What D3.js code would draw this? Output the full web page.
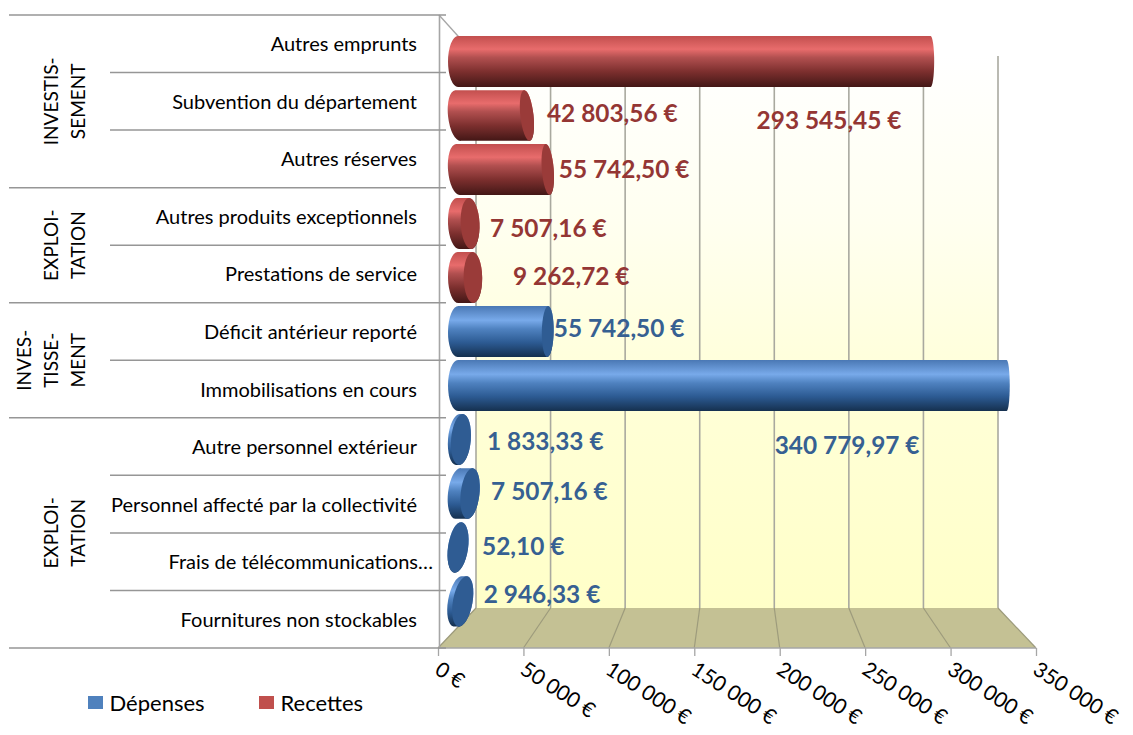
<!DOCTYPE html>
<html><head><meta charset="utf-8">
<script src="https://cdn.jsdelivr.net/npm/d3@7/dist/d3.min.js"></script>
<style>html,body{margin:0;padding:0;background:#fff}svg{display:block}text{font-family:Lato,"Open Sans",sans-serif}</style>
</head><body><svg id="c" width="1133" height="735"></svg>
<script>
const categories=["Autres emprunts","Subvention du département","Autres réserves","Autres produits exceptionnels","Prestations de service","Déficit antérieur reporté","Immobilisations en cours","Autre personnel extérieur","Personnel affecté par la collectivité","Frais de télécommunications…","Fournitures non stockables"];
const values=[293545.45,42803.56,55742.50,7507.16,9262.72,55742.50,340779.97,1833.33,7507.16,52.10,2946.33];
const seriesOf=["Recettes","Recettes","Recettes","Recettes","Recettes","Dépenses","Dépenses","Dépenses","Dépenses","Dépenses","Dépenses"];
const valueLabels=["293 545,45 €","42 803,56 €","55 742,50 €","7 507,16 €","9 262,72 €","55 742,50 €","340 779,97 €","1 833,33 €","7 507,16 €","52,10 €","2 946,33 €"];
const labelOffsetX=[-174,20,11,20,40,6,-232,26,21,24,21];
const labelOffsetY=[59,-2.5,0,4.5,-1,-3,60,2,-2,-1.5,-7.5];
const groups=[["INVESTIS-","SEMENT"],["EXPLOI-","TATION"],["INVES-","TISSE-","MENT"],["EXPLOI-","TATION"]];
const groupSpans=[[0,3],[3,5],[5,7],[7,11]];
const ticks=[0,50000,100000,150000,200000,250000,300000,350000];
const series=["Dépenses","Recettes"];
const legendColors=["#4f81bd","#c0504d"];

const svg=d3.select("#c"),defs=svg.append("defs");
const axisX=d3.scaleLinear().domain([0,350000]).range([438,1036]);
const wallX=d3.scaleLinear().domain([0,350000]).range([476,998]);
const barX=d3.scaleLinear().domain([0,350000]).range([458,1021.5]);
const rowY=d3.scaleBand().domain(categories).range([15,648]);
const barY=d3.scaleBand().domain(categories).range([36,627]).paddingInner(0.055);
const capRx=d3.scaleLinear().domain([0,50000,350000]).range([10,6,3]);
const tiltY=d3.scaleLinear().domain([36,627]).range([-9,11]);
const tilt=(cy,v)=>v<100000?tiltY(cy):0;
const wallTop=56,wallBottom=608,frontY=648;

function grad(id,stops){const g=defs.append("linearGradient").attr("id",id).attr("x1",0).attr("y1",0).attr("x2",0).attr("y2",1);
 stops.forEach(s=>g.append("stop").attr("offset",s[0]).attr("stop-color",s[1]));}
grad("wall",[[0,"#ffffff"],[0.3,"#fffff0"],[0.6,"#ffffd8"],[1,"#ffffc8"]]);
grad("Recettes",[[0,"#c24f4e"],[0.26,"#e86c6c"],[0.42,"#b25050"],[0.7,"#7c2f2e"],[1,"#431716"]]);
grad("Dépenses",[[0,"#4a78b4"],[0.28,"#78aaea"],[0.45,"#4f82c0"],[0.72,"#2c5a92"],[1,"#15304f"]]);
const capColor={"Recettes":"#9a3b39","Dépenses":"#2f5c93"};
const valueColor={"Recettes":"#943634","Dépenses":"#366092"};

// wall and floor
svg.append("rect").attr("x",wallX(0)).attr("y",wallTop).attr("width",wallX(350000)-wallX(0)).attr("height",wallBottom-wallTop).attr("fill","url(#wall)");
svg.append("path").attr("d",d3.line()([[axisX(0),frontY],[axisX(350000),frontY],[wallX(350000),wallBottom],[wallX(0),wallBottom]])+"Z").attr("fill","#c4c194");
svg.selectAll("line.grid").data(ticks).join("line").attr("class","grid").attr("x1",d=>wallX(d)).attr("x2",d=>wallX(d)).attr("y1",wallTop).attr("y2",wallBottom).attr("stroke","#a9a99f").attr("stroke-width",1.6);
svg.selectAll("line.fl").data(ticks).join("line").attr("class","fl").attr("x1",d=>wallX(d)).attr("x2",d=>axisX(d)).attr("y1",wallBottom).attr("y2",frontY).attr("stroke","#9d9b7c").attr("stroke-width",1.2);
svg.append("line").attr("x1",axisX(0)+1).attr("y1",15).attr("x2",wallX(0)).attr("y2",wallTop).attr("stroke","#a6a6a6").attr("stroke-width",1.3);

// bottom axis
const ax=svg.append("g").attr("transform",`translate(0,${frontY})`).call(d3.axisBottom(axisX).tickValues(ticks).tickSize(8).tickPadding(0).tickFormat(d=>d3.format(",")(d).replace(/,/g," ")+" €"));
ax.select(".domain").attr("stroke","#a6a6a6").attr("stroke-width",1.6).attr("d",`M${axisX(0)},0H${axisX(350000)}`);
ax.selectAll(".tick line").attr("stroke","#a6a6a6").attr("stroke-width",1.3);
ax.selectAll(".tick text").attr("fill","#000").attr("font-size",21).attr("text-anchor","start").attr("y",0).attr("dy",0).attr("transform","translate(-5,25) rotate(33)");

// category axis
svg.append("line").attr("x1",439.5).attr("x2",439.5).attr("y1",15).attr("y2",frontY).attr("stroke","#a6a6a6").attr("stroke-width",1.6);
const edges=categories.map(c=>rowY(c)).concat([frontY]);
const groupEdges=new Set(groupSpans.flat());
svg.selectAll("line.sep").data(edges).join("line").attr("class","sep").attr("x1",(d,i)=>groupEdges.has(i)?9:110).attr("x2",446).attr("y1",d=>d).attr("y2",d=>d).attr("stroke","#969696").attr("stroke-width",1.5);
svg.selectAll("text.cat").data(categories).join("text").attr("class","cat").attr("x",(d,i)=>i===9?433:417).attr("y",d=>rowY(d)+rowY.bandwidth()/2+0.5).attr("dy","0.35em").attr("text-anchor","end").attr("font-size",20).attr("fill","#000").text(d=>d);

// group labels
groups.forEach((lines,g)=>{
 const cy=(edges[groupSpans[g][0]]+edges[groupSpans[g][1]])/2;
 lines.forEach((t,i)=>{
  const x=85-(lines.length-1-i)*27;
  svg.append("text").attr("transform",`translate(${x},${cy}) rotate(-90)`).attr("text-anchor","middle").attr("font-size",19).attr("fill","#000").text(t);
 });
});

// bars
const data=categories.map((c,i)=>({c,v:values[i],s:seriesOf[i],lab:valueLabels[i],dx:labelOffsetX[i],dy:labelOffsetY[i]}));
const rad=Math.PI/180;
const bars=svg.selectAll("g.bar").data(data).join("g").attr("class","bar");
bars.append("path").attr("fill",d=>`url(#${d.s})`).attr("d",d=>{
 const ry=barY.bandwidth()/2,cy=barY(d.c)+ry,a=tilt(cy,d.v),x0=barX(0),x1=barX(d.v),r0=10,r1=capRx(d.v);
 const sx=ry*Math.sin(a*rad),sy=ry*Math.cos(a*rad);
 return `M${x0+sx},${cy-sy}L${x1+sx},${cy-sy}A${r1},${ry},${a},0,1,${x1-sx},${cy+sy}L${x0-sx},${cy+sy}A${r0},${ry},${a},0,1,${x0+sx},${cy-sy}Z`;
});
bars.filter(d=>d.v<100000).append("ellipse")
 .attr("cx",d=>barX(d.v)).attr("cy",d=>barY(d.c)+barY.bandwidth()/2).attr("rx",d=>capRx(d.v)).attr("ry",barY.bandwidth()/2)
 .attr("fill",d=>capColor[d.s])
 .attr("transform",d=>{const cy=barY(d.c)+barY.bandwidth()/2;return `rotate(${tilt(cy,d.v)},${barX(d.v)},${cy})`;});

// value labels
svg.selectAll("text.val").data(data).join("text").attr("class","val")
 .attr("x",d=>barX(d.v)+d.dx).attr("y",d=>barY(d.c)+barY.bandwidth()/2+d.dy).attr("dy","0.35em")
 .attr("font-size",24.4).attr("font-weight",700).attr("fill",d=>valueColor[d.s]).text(d=>d.lab);

// legend
const legendX=d3.scalePoint().domain(series).range([88,259]);
const lg=svg.selectAll("g.lg").data(series).join("g").attr("class","lg");
lg.append("rect").attr("x",d=>legendX(d)).attr("y",696).attr("width",15).attr("height",13).attr("fill",(d,i)=>legendColors[i]);
lg.append("text").attr("x",d=>legendX(d)+21.5).attr("y",703).attr("dy","0.35em").attr("font-size",22).attr("fill","#000").text(d=>d);
</script></body></html>
